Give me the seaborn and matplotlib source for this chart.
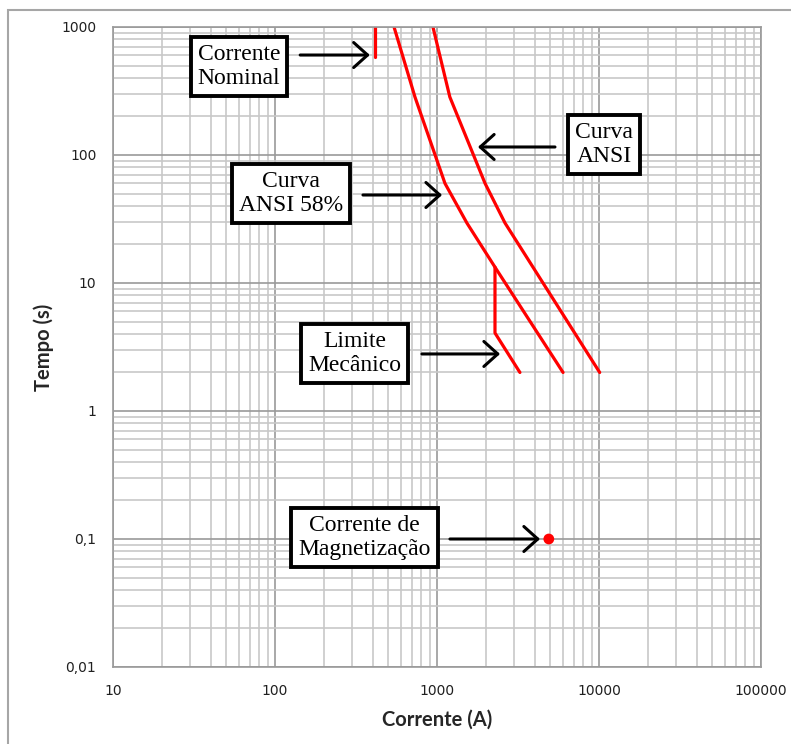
import numpy as np
import pandas as pd
import matplotlib
matplotlib.use("Agg")
import matplotlib.pyplot as plt
from matplotlib.ticker import FixedLocator, LogLocator, NullFormatter
from matplotlib.patches import Rectangle
import seaborn as sns

# ---- data ----
nominal_x = [415, 415]
nominal_y = [580, 1000]

ansi58_x = [543, 731, 1120, 1530, 2280, 6000]
ansi58_y = [1000, 284, 60, 29.4, 13.3, 2]

ansi_x = [944, 1200, 1980, 2630, 10100]
ansi_y = [1000, 284, 60, 29.4, 2]

mech_x = [2280, 2280, 3250]
mech_y = [13.3, 4.07, 2]

mag_x = [4900]
mag_y = [0.1]

x_ticks = [10, 100, 1000, 10000, 100000]
x_tick_labels = ["10", "100", "1000", "10000", "100000"]
y_ticks = [0.01, 0.1, 1, 10, 100, 1000]
y_tick_labels = ["0,01", "0,1", "1", "10", "100", "1000"]

labels = ["Corrente\nNominal", "Curva\nANSI", "Curva\nANSI 58%", "Limite\nMecânico", "Corrente de\nMagnetização"]
label_x = [60, 10740, 126, 310, 357]
label_y = [491, 121, 50, 2.81, 0.103]
arrow_tail_x = [143, 5350, 349, 807, 1202]
arrow_tail_y = [604, 115.5, 48.7, 2.79, 0.1]
arrow_head_x = [385, 1790, 1075, 2450, 4325]
arrow_head_y = [604, 115.5, 48.7, 2.79, 0.1]

# ---- figure ----
sns.set_theme(style="white")
plt.rcParams["font.family"] = ["DejaVu Sans"]

W, H = 791, 744
fig = plt.figure(figsize=(W / 100, H / 100), dpi=100)
left, right, top, bottom = 113, 761, 27, 667
ax = fig.add_axes([left / W, 1 - bottom / H, (right - left) / W, (bottom - top) / H])

ax.set_xscale("log")
ax.set_yscale("log")
ax.set_xlim(10, 100000)
ax.set_ylim(0.01, 1000)

ax.xaxis.set_minor_locator(LogLocator(base=10, subs=np.arange(2, 10), numticks=50))
ax.yaxis.set_minor_locator(LogLocator(base=10, subs=np.arange(2, 10), numticks=50))
ax.xaxis.set_minor_formatter(NullFormatter())
ax.yaxis.set_minor_formatter(NullFormatter())
ax.grid(which="minor", color="#c8c8c8", lw=1.2)
ax.grid(which="major", color="#9a9a9a", lw=1.2)
ax.set_axisbelow(True)

red = "#ff0000"
sns.lineplot(x=nominal_x, y=nominal_y, ax=ax, color=red, lw=2.3, estimator=None, sort=False)
sns.lineplot(x=ansi58_x, y=ansi58_y, ax=ax, color=red, lw=2.3, estimator=None, sort=False)
sns.lineplot(x=ansi_x, y=ansi_y, ax=ax, color=red, lw=2.3, estimator=None, sort=False)
sns.lineplot(x=mech_x, y=mech_y, ax=ax, color=red, lw=2.3, estimator=None, sort=False)
sns.scatterplot(x=mag_x, y=mag_y, ax=ax, color=red, s=60, edgecolor="none", zorder=5)

ax.xaxis.set_major_locator(FixedLocator(x_ticks))
ax.set_xticklabels(x_tick_labels)
ax.yaxis.set_major_locator(FixedLocator(y_ticks))
ax.set_yticklabels(y_tick_labels)
ax.tick_params(which="major", direction="out", length=5, width=1.2, color="#9a9a9a",
               labelsize=10, labelcolor="#202020")
ax.tick_params(which="minor", length=0)
ax.tick_params(axis="x", pad=7)
ax.tick_params(axis="y", pad=7)
for s in ax.spines.values():
    s.set_color("#9a9a9a")
    s.set_linewidth(1.2)

ax.set_xlabel("Corrente (A)", fontsize=14.5, fontweight="bold", family=["Lato", "DejaVu Sans"], labelpad=9)
ax.set_ylabel("Tempo (s)", fontsize=14.5, fontweight="bold", family=["Lato", "DejaVu Sans"], labelpad=5)

for lab, lx, ly, tx, ty, hx, hy in zip(labels, label_x, label_y, arrow_tail_x, arrow_tail_y,
                                       arrow_head_x, arrow_head_y):
    ax.annotate("", xy=(hx, hy), xytext=(tx, ty),
                arrowprops=dict(arrowstyle="->,head_length=0.5,head_width=0.45",
                                color="black", lw=2.2, mutation_scale=20,
                                shrinkA=0, shrinkB=0), zorder=6)
    ax.text(lx, ly, lab, ha="center", va="center", fontsize=17,
            family=["Liberation Serif"], color="black", linespacing=1.15, zorder=7,
            bbox=dict(boxstyle="square,pad=0.3", fc="white", ec="black", lw=2.8))

# outer frame of the chart area
fig.add_artist(Rectangle((8 / W, -0.1), 1.2, 1 - 10 / H + 0.1, transform=fig.transFigure,
                         fill=False, ec="#a6a6a6", lw=1.5))

fig.savefig("out.png", dpi=100)
